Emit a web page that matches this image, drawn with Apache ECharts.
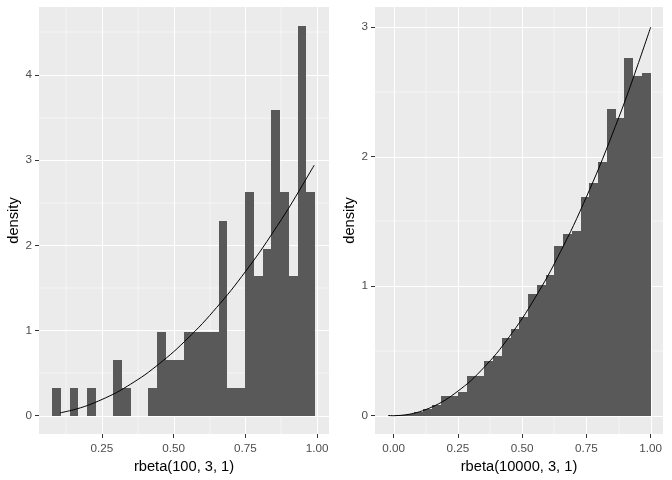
<!DOCTYPE html>
<html>
<head>
<meta charset="utf-8">
<script src="https://cdn.jsdelivr.net/npm/echarts@6/dist/echarts.min.js"></script>
<style>
html,body{margin:0;padding:0;background:#fff;}
#chart{width:672px;height:480px;}
</style>
</head>
<body>
<div id="chart"></div>
<script>
// ---------- data ----------
// Left panel: rbeta(100, 3, 1), 30 bins
var leftBinStart = 0.0756;
var leftBinWidth = 0.0306;
var leftDensity = [0.33,0,0.33,0,0.33,0,0,0.65,0.33,0,0,0.33,0.98,0.65,0.65,0.98,0.98,0.98,0.98,2.29,0.33,0.33,2.62,1.64,1.96,3.59,2.62,1.64,4.57,2.62];
var leftCurveX = [0.103,0.15,0.2,0.25,0.3,0.35,0.4,0.45,0.5,0.55,0.6,0.65,0.7,0.75,0.8,0.85,0.9,0.95,0.99];
var leftCurveY = [0.032,0.068,0.12,0.19,0.27,0.37,0.48,0.61,0.75,0.91,1.08,1.27,1.47,1.69,1.92,2.17,2.43,2.71,2.94];
var leftXTicks = [0.25,0.5,0.75,1.0];
var leftXMinor = [0.125,0.375,0.625,0.875];
var leftYTicks = [0,1,2,3,4];
var leftYMinor = [0.5,1.5,2.5,3.5,4.5];

// Right panel: rbeta(10000, 3, 1), 30 bins
var rightBinStart = -0.0215;
var rightBinWidth = 0.03405;
var rightDensity = [0.001,0.004,0.013,0.03,0.05,0.08,0.15,0.15,0.18,0.31,0.31,0.42,0.46,0.60,0.67,0.76,0.94,1.01,1.09,1.31,1.40,1.43,1.69,1.80,1.96,2.37,2.30,2.76,2.62,2.65];
var rightCurveX = [-0.0215,0,0.05,0.1,0.15,0.2,0.25,0.3,0.35,0.4,0.45,0.5,0.55,0.6,0.65,0.7,0.75,0.8,0.85,0.9,0.95,1.0];
var rightCurveY = [0.0014,0,0.0075,0.03,0.068,0.12,0.19,0.27,0.37,0.48,0.61,0.75,0.91,1.08,1.27,1.47,1.69,1.92,2.17,2.43,2.71,3.0];
var rightXTicks = [0,0.25,0.5,0.75,1.0];
var rightXMinor = [0.125,0.375,0.625,0.875];
var rightYTicks = [0,1,2,3];
var rightYMinor = [0.5,1.5,2.5];

var xTitles = ['rbeta(100, 3, 1)','rbeta(10000, 3, 1)'];
var yTitle = 'density';

// ---------- helpers ----------
function bins(start, width, dens){
  return dens.map(function(d,i){ return [start + i*width, start + (i+1)*width, d]; });
}
function pairs(xs, ys){ return xs.map(function(x,i){ return [x, ys[i]]; }); }

var FONT = '"Liberation Sans", Arial, sans-serif';

function barRender(params, api){
  var x0 = api.value(0), x1 = api.value(1), y = api.value(2);
  var p0 = api.coord([x0, y]);
  var p1 = api.coord([x1, 0]);
  var l = Math.round(p0[0]), r = Math.round(p1[0]);
  var t = Math.round(p0[1]), b = Math.round(p1[1]);
  return {type:'rect', shape:{x:l, y:t, width:r-l, height:b-t},
          style:{fill:'#595959', stroke:null}};
}
function vGrid(w){
  return function(params, api){
    var cs = params.coordSys;
    var x = api.coord([api.value(0), 0])[0];
    x = Math.round(x) + (w >= 1 ? 0.5 : 0);
    return {type:'line', shape:{x1:x, y1:cs.y, x2:x, y2:cs.y+cs.height},
            style:{stroke:'#FFFFFF', lineWidth:w}};
  };
}
function hGrid(w){
  return function(params, api){
    var cs = params.coordSys;
    var y = api.coord([0, api.value(1)])[1];
    y = Math.round(y) + (w >= 1 ? 0.5 : 0);
    return {type:'line', shape:{x1:cs.x, y1:y, x2:cs.x+cs.width, y2:y},
            style:{stroke:'#FFFFFF', lineWidth:w}};
  };
}
function gridSeries(idx, xs, ys, w){
  return [
    {type:'custom', xAxisIndex:idx, yAxisIndex:idx, z:1, silent:true, renderItem:vGrid(w),
     data: xs.map(function(v){ return [v,0]; })},
    {type:'custom', xAxisIndex:idx, yAxisIndex:idx, z:1, silent:true, renderItem:hGrid(w),
     data: ys.map(function(v){ return [0,v]; })}
  ];
}
function xAxisCfg(idx, min, max, ticks, name){
  return {
    type:'value', gridIndex:idx, min:min, max:max,
    axisLine:{show:false, onZero:false}, splitLine:{show:false},
    axisTick:{show:true, length:4, lineStyle:{color:'#333333', width:1}, customValues:ticks},
    axisLabel:{customValues:ticks, formatter:function(v){ return v.toFixed(2); },
               color:'#4D4D4D', fontSize:11.7, fontFamily:FONT, margin:9},
    name:name, nameLocation:'middle', nameGap:25,
    nameTextStyle:{color:'#000000', fontSize:14.67, fontFamily:FONT, verticalAlign:'top'}
  };
}
function yAxisCfg(idx, min, max, ticks){
  return {
    type:'value', gridIndex:idx, min:min, max:max,
    axisLine:{show:false, onZero:false}, splitLine:{show:false},
    axisTick:{show:true, length:4, lineStyle:{color:'#333333', width:1}, customValues:ticks},
    axisLabel:{customValues:ticks, formatter:function(v){ return String(v); },
               color:'#4D4D4D', fontSize:11.7, fontFamily:FONT, margin:7},
    name:yTitle, nameLocation:'middle', nameGap:17,
    nameTextStyle:{color:'#000000', fontSize:14.67, fontFamily:FONT}
  };
}

var chart = echarts.init(document.getElementById('chart'), null, {renderer:'canvas'});
var series = [];
series = series.concat(gridSeries(0, leftXMinor, leftYMinor, 0.5));
series = series.concat(gridSeries(0, leftXTicks, leftYTicks, 1));
series = series.concat(gridSeries(1, rightXMinor, rightYMinor, 0.5));
series = series.concat(gridSeries(1, rightXTicks, rightYTicks, 1));
series.push({type:'custom', xAxisIndex:0, yAxisIndex:0, z:2, renderItem:barRender,
             encode:{x:[0,1], y:2}, data:bins(leftBinStart, leftBinWidth, leftDensity)});
series.push({type:'custom', xAxisIndex:1, yAxisIndex:1, z:2, renderItem:barRender,
             encode:{x:[0,1], y:2}, data:bins(rightBinStart, rightBinWidth, rightDensity)});
series.push({type:'line', xAxisIndex:0, yAxisIndex:0, z:3, showSymbol:false, smooth:0.3,
             lineStyle:{color:'#000000', width:1}, data:pairs(leftCurveX, leftCurveY)});
series.push({type:'line', xAxisIndex:1, yAxisIndex:1, z:3, showSymbol:false, smooth:0.3,
             lineStyle:{color:'#000000', width:1}, data:pairs(rightCurveX, rightCurveY)});

chart.setOption({
  animation:false,
  backgroundColor:'#FFFFFF',
  grid:[
    {left:39, top:7, width:290, height:427, show:true, backgroundColor:'#EBEBEB', borderWidth:0},
    {left:375, top:7, width:288, height:427, show:true, backgroundColor:'#EBEBEB', borderWidth:0}
  ],
  xAxis:[
    xAxisCfg(0, 0.0303, 1.0418, leftXTicks, xTitles[0]),
    xAxisCfg(1, -0.0728, 1.0479, rightXTicks, xTitles[1])
  ],
  yAxis:[
    yAxisCfg(0, -0.2155, 4.7975, leftYTicks),
    yAxisCfg(1, -0.1413, 3.1560, rightYTicks)
  ],
  series:series
});
</script>
</body>
</html>
